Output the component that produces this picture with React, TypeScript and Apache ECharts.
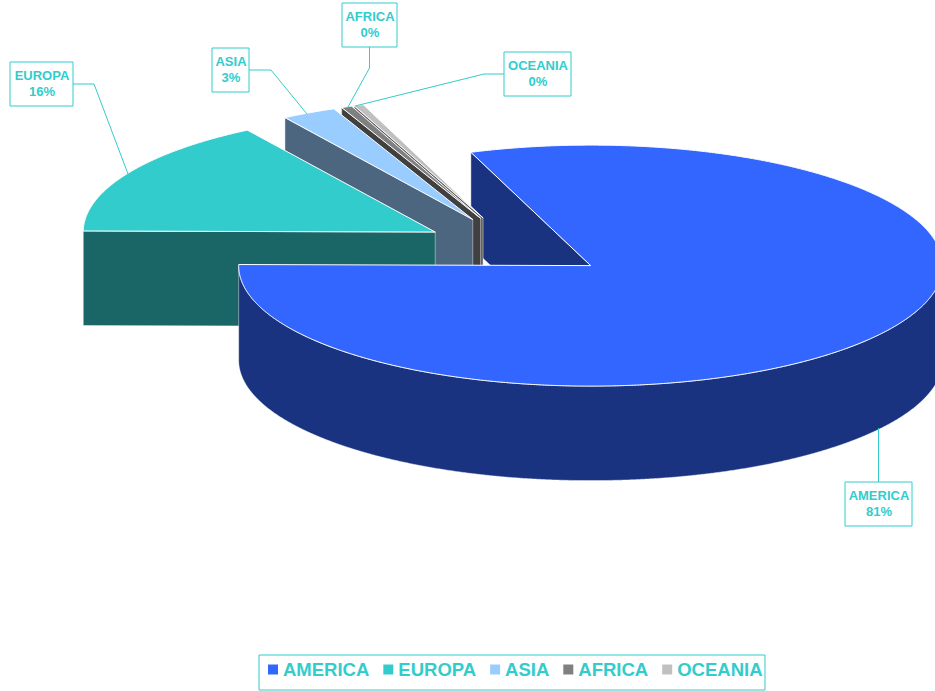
import React, { useEffect, useRef } from "react";
import * as echarts from "echarts";

const categories = ["AMERICA", "EUROPA", "ASIA", "AFRICA", "OCEANIA"];
const values = [80.67, 15.9, 2.5, 0.49, 0.44];
const topColors = ["#3366ff", "#33cccc", "#99ccff", "#808080", "#c0c0c0"];
const wallColors = ["#1a3380", "#1a6666", "#4d6680", "#404040", "#606060"];

const TEAL = "#33cccc";
const FONT = '"Liberation Sans", Arial, sans-serif';
const START_ANGLE = 250.1;
const CX = 515.6;
const CY = 247.4;
const RX = 352;
const RY = 120.5;
const DEPTH = 94.5;
const EXPLODE = 92;

// label boxes [x0, y0, x1, y1] and leader polylines
const labelBoxes = [
  [845, 482, 912, 526],
  [10, 62, 73, 106],
  [212, 48, 249, 92],
  [342, 3, 397, 47],
  [504, 52, 571, 96],
];
const leaders = [
  [[878.5, 482], [878.5, 428]],
  [[73, 84], [94, 84], [128, 174]],
  [[249, 70], [271, 70], [307, 114]],
  [[369.5, 47], [369.5, 68], [348, 107]],
  [[504, 74], [484, 74], [355, 106]],
];
const layerOrder = [5, 4, 3, 2, 1];

const total = values.reduce((a, b) => a + b, 0);
const rad = (d: number) => (d * Math.PI) / 180;

function sliceAngles(i: number) {
  let s = START_ANGLE;
  for (let k = 0; k < i; k++) s += (values[k] / total) * 360;
  return [s, s + (values[i] / total) * 360];
}

function makeRender(i: number) {
  return (_params: any, api: any) => {
    const v = api.value(0);
    const [a0] = sliceAngles(i);
    const a1 = a0 + (v / total) * 360;
    const mid = rad((a0 + a1) / 2);
    const ax = CX + EXPLODE * Math.cos(mid);
    const ay = CY + (EXPLODE * RY * Math.sin(mid)) / RX;
    const pt = (deg: number, dy = 0) => [
      ax + RX * Math.cos(rad(deg)),
      ay + RY * Math.sin(rad(deg)) + dy,
    ];
    const arc = (from: number, to: number, dy = 0) => {
      const out: number[][] = [];
      const n = Math.max(2, Math.ceil((to - from) * 4));
      for (let k = 0; k <= n; k++) out.push(pt(from + ((to - from) * k) / n, dy));
      return out;
    };
    const z = layerOrder[i];
    const edge = { stroke: "#ffffff", lineWidth: 1 };
    const wallEdge = { stroke: "rgba(255,255,255,0.55)", lineWidth: 0.8 };
    const children: any[] = [];
    const s = pt(a0);
    const sb = pt(a0, DEPTH);
    children.push({
      type: "polygon",
      z2: i === 0 ? 0 : z,
      shape: { points: [s, [ax, ay], [ax, ay + DEPTH], sb] },
      style: { fill: wallColors[i], ...wallEdge },
    });
    const w0 = Math.max(a0, 360);
    const w1 = Math.min(a1, 540);
    if (w1 > w0) {
      children.push({
        type: "polygon",
        z2: z,
        shape: { points: [...arc(w0, w1), ...arc(w0, w1, DEPTH).reverse()] },
        style: { fill: wallColors[i], ...wallEdge },
      });
    }
    children.push({
      type: "polygon",
      z2: z,
      shape: { points: [[ax, ay], ...arc(a0, a1)] },
      style: { fill: topColors[i], ...edge },
    });
    const [x0, y0, x1, y1] = labelBoxes[i];
    children.push({
      type: "polyline",
      z2: 10,
      shape: { points: leaders[i] },
      style: { fill: "none", stroke: TEAL, lineWidth: 1 },
    });
    children.push({
      type: "rect",
      z2: 11,
      shape: { x: x0, y: y0, width: x1 - x0, height: y1 - y0 },
      style: { fill: "#ffffff", stroke: TEAL, lineWidth: 1 },
    });
    children.push({
      type: "text",
      z2: 12,
      style: {
        text: `${categories[i]}\n${Math.round((v / total) * 100)}%`,
        x: (x0 + x1) / 2 + 0.5,
        y: (y0 + y1) / 2 - 0.6,
        fill: TEAL,
        align: "center",
        verticalAlign: "middle",
        fontFamily: FONT,
        fontWeight: "bold",
        fontSize: 13,
        lineHeight: 16,
      },
    });
    return { type: "group", children };
  };
}

export default function App() {
  const ref = useRef<HTMLDivElement>(null);
  useEffect(() => {
    document.body.style.margin = "0";
    document.body.style.overflow = "hidden";
    const chart = echarts.init(ref.current!, null, { renderer: "svg" });
    chart.setOption({
      animation: false,
      backgroundColor: "#ffffff",
      legend: {
        data: categories,
        left: 259,
        top: 655,
        orient: "horizontal",
        icon: "rect",
        itemWidth: 10,
        itemHeight: 10,
        itemGap: 14,
        padding: [5, 2.5, 11, 9],
        borderColor: TEAL,
        borderWidth: 1,
        selectedMode: false,
        textStyle: {
          color: TEAL,
          fontFamily: FONT,
          fontWeight: "bold",
          fontSize: 18.5,
          padding: [0, 0, 0, 0],
        },
      },
      series: categories.map((name, i) => ({
        type: "custom",
        name,
        coordinateSystem: "none",
        silent: true,
        itemStyle: { color: topColors[i] },
        renderItem: makeRender(i),
        data: [values[i]],
      })),
    });
    return () => chart.dispose();
  }, []);
  return <div ref={ref} style={{ width: 935, height: 691 }} />;
}
